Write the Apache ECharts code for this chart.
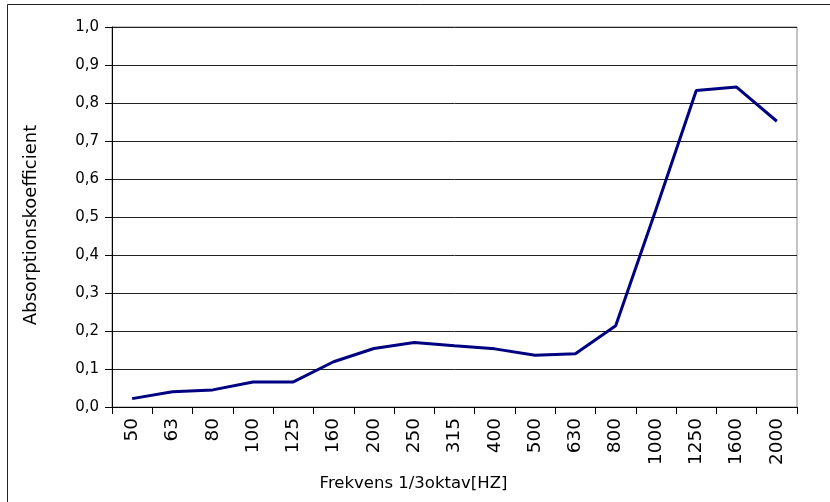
<!DOCTYPE html>
<html>
<head>
<meta charset="utf-8">
<script src="https://cdn.jsdelivr.net/npm/echarts@6/dist/echarts.min.js"></script>
<style>
html,body{margin:0;padding:0;background:#fff;}
#chart{width:830px;height:502px;}
</style>
</head>
<body>
<div id="chart"></div>
<script>
var categories = ['50','63','80','100','125','160','200','250','315','400','500','630','800','1000','1250','1600','2000'];
var absorption = [0.022, 0.040, 0.045, 0.066, 0.066, 0.119, 0.154, 0.170, 0.161, 0.153, 0.136, 0.140, 0.214, 0.52, 0.833, 0.842, 0.752];
var yTicks = {min: 0, max: 1, interval: 0.1};
var xAxisName = 'Frekvens 1/3oktav[HZ]';
var yAxisName = 'Absorptionskoefficient';

var chart = echarts.init(document.getElementById('chart'), null, {renderer: 'canvas'});
var font = 'DejaVu Sans';
chart.setOption({
  animation: false,
  backgroundColor: '#fff',
  grid: {left: 112, right: 33, top: 27, bottom: 95, show: true, borderColor: '#888', borderWidth: 1},
  graphic: [{
    type: 'rect',
    shape: {x: 7.5, y: 4.5, width: 900, height: 600},
    style: {fill: 'none', stroke: '#222', lineWidth: 1},
    silent: true
  }],
  xAxis: {
    type: 'category',
    data: categories,
    boundaryGap: true,
    name: xAxisName,
    nameLocation: 'middle',
    nameGap: 68,
    nameTextStyle: {fontFamily: font, fontSize: 16.5, color: '#000', padding: [0, 82, 0, 0]},
    axisLine: {lineStyle: {color: '#000', width: 1}},
    axisTick: {show: true, alignWithLabel: false, length: 7, lineStyle: {color: '#000'}},
    axisLabel: {rotate: 90, interval: 0, margin: 11, fontFamily: font, fontSize: 18.5, color: '#000'},
    splitLine: {show: false}
  },
  yAxis: {
    type: 'value',
    min: yTicks.min,
    max: yTicks.max,
    interval: yTicks.interval,
    name: yAxisName,
    nameLocation: 'middle',
    nameGap: 72,
    nameRotate: 90,
    nameTextStyle: {fontFamily: font, fontSize: 18, color: '#000', padding: [0, 16, 0, 0]},
    axisLine: {show: true, lineStyle: {color: '#000', width: 1}},
    axisTick: {show: true, inside: false, length: 7, lineStyle: {color: '#000'}},
    axisLabel: {margin: 13, fontFamily: font, fontSize: 15, color: '#000',
      formatter: function (v) { return v.toFixed(1).replace('.', ','); }},
    splitLine: {show: true, lineStyle: {color: '#222', width: 1}}
  },
  series: [{
    type: 'line',
    data: absorption,
    showSymbol: false,
    symbol: 'none',
    lineStyle: {color: '#000080', width: 3},
    itemStyle: {color: '#000080'}
  }]
});
</script>
</body>
</html>
